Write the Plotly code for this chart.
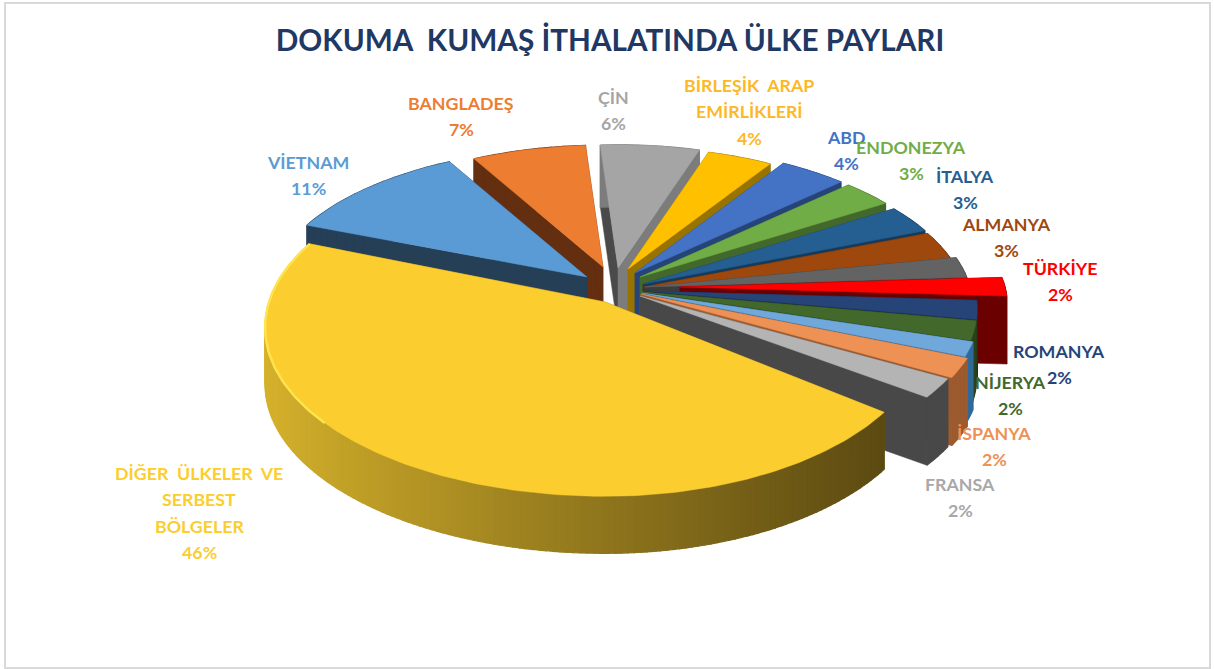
import math
import plotly.graph_objects as go

# --- data -----------------------------------------------------------------
TITLE = "DOKUMA  KUMAŞ İTHALATINDA ÜLKE PAYLARI"
categories = ["ÇİN", "BİRLEŞİK  ARAP<br>EMİRLİKLERİ", "ABD", "ENDONEZYA", "İTALYA", "ALMANYA", "",
              "TÜRKİYE", "ROMANYA", "NİJERYA", "", "İSPANYA", "FRANSA",
              "DİĞER  ÜLKELER  VE<br>SERBEST<br>BÖLGELER", "VİETNAM", "BANGLADEŞ"]
values = [6, 4, 4, 3, 3, 3, 2.2, 2, 2, 2, 1.5, 2, 2, 46, 11, 7]
percent_labels = ["6%", "4%", "4%", "3%", "3%", "3%", "", "2%", "2%", "2%", "", "2%", "2%", "46%", "11%", "7%"]

# --- style ----------------------------------------------------------------
top_colors = ["#a5a5a5", "#ffc000", "#4472c4", "#70ad47", "#255e91", "#9e480e", "#636363",
              "#ff0000", "#264478", "#43682b", "#70a8dc", "#ed9155", "#b4b4b4",
              "#fbcd2e", "#5b9bd5", "#ed7d31"]
wall_colors = ["#4a4a4a", "#997300", "#264478", "#43682b", "#163a5a", "#5e2b08", "#3c3c3c",
               "#6a0000", "#16294a", "#2a4219", "#2f6a9a", "#9c5a2e", "#484848",
               "#8a6f1a", "#253f56", "#632f10"]
label_colors = ["#a5a5a5", "#fdb827", "#4472c4", "#70ad47", "#255e91", "#9e480e", "#636363",
                "#ff0000", "#264478", "#43682b", "#70a8dc", "#ed9155", "#a8a8a8",
                "#fbcd2e", "#5b9bd5", "#ed7d31"]
# apex of each slice's top surface (exploded positions) and size factor
apex = [(618, 268), (628, 269), (635, 273), (640, 277), (643, 284), (644, 287), (645, 287),
        (680, 287), (645, 291), (643, 292), (642, 293), (641, 294), (640, 296),
        (605, 302), (587, 277), (603, 267)]
scale = [0.92, 0.91, 0.95, 0.96, 0.98, 0.985, 1.0, 1.0, 1.015, 1.02, 1.03, 1.04, 1.03, 1.0, 0.97, 0.91]
depth = [62, 62, 62, 62, 62, 62, 62, 68, 64, 66, 68, 68, 68, 57, 62, 62]
rx = [325] * 13 + [336, 325, 325]
ry = [150] * 13 + [165, 150, 150]
persp = [0.12] * 13 + [0.151, 0.12, 0.12]
right_squash = [1.0] * 13 + [0.95, 1.0, 1.0]
# centre of first line for each label
label_pos = [(613, 97), (749, 85), (846, 137), (911, 147), (965, 176), (1006, 224), None,
             (1060, 268), (1059, 351), (1010, 382), None, (994, 433), (960, 484),
             (199, 473), (308, 162), (461, 103)]
LINE_GAP = 26.3
START_DEG = -3.8
FONT = "Lato, Carlito, Calibri, sans-serif"
draw_order = [0, 1, 2, 3, 4, 5, 6, 7, 8, 9, 10, 11, 12, 15, 14, 13]

total = sum(values)
angles = []
a = START_DEG
for v in values:
    angles.append((a, a + v / total * 360))
    a = angles[-1][1]


def rim_pt(i, deg):
    t = math.radians(deg)
    X, Y = math.sin(t), math.cos(t)
    s = scale[i] / (1 + persp[i] * Y)
    fx = right_squash[i] if X > 0 else 1.0
    return apex[i][0] + X * rx[i] * s * fx, apex[i][1] - Y * ry[i] * s


def poly(xs, ys, color, width=0.5):
    return go.Scatter(x=xs + xs[:1], y=ys + ys[:1], mode="lines", fill="toself", fillcolor=color,
                      line=dict(color=color, width=width), hoverinfo="skip", showlegend=False)


def mix(c1, c2, f):
    return "#%02x%02x%02x" % tuple(int(c1[j] + (c2[j] - c1[j]) * f) for j in range(3))


fig = go.Figure()
for i in draw_order:
    a0, a1 = angles[i]
    n = max(4, int((a1 - a0) / 1.0)) if i == 13 else max(4, int((a1 - a0) / 2.5))
    degs = [a0 + (a1 - a0) * k / n for k in range(n + 1)]
    pts = [rim_pt(i, d) for d in degs]
    ax, ay = apex[i]
    d = depth[i]
    # cut walls
    for p in (pts[0], pts[-1]):
        col = "#7c7c7c" if (i == 0 and p is pts[-1]) else wall_colors[i]
        fig.add_trace(poly([ax, p[0], p[0], ax], [ay, p[1], p[1] + d, ay + d], col))
    # rim wall, shaded along its length
    for k in range(n):
        p, q = pts[k], pts[k + 1]
        if i == 13:
            f = (p[0] - 265) / (890 - 265)
            col = mix((214, 178, 44), (92, 74, 18), max(0, min(1, f)) ** 0.9)
            w = 1.2
        else:
            col = "#7c7c7c" if i == 0 else wall_colors[i]
            w = 1.2
        fig.add_trace(poly([p[0], q[0], q[0], p[0]], [p[1], q[1], q[1] + d, p[1] + d], col, w))
    # top surface
    fig.add_trace(poly([ax] + [p[0] for p in pts], [ay] + [p[1] for p in pts], top_colors[i]))
    if i == 13:
        hl = [p for dg, p in zip(degs, pts) if dg > 228]
        fig.add_trace(go.Scatter(x=[p[0] for p in hl], y=[p[1] for p in hl], mode="lines",
                                 line=dict(color="#ffe34d", width=2.5), hoverinfo="skip", showlegend=False))

annotations = []
for i, pos in enumerate(label_pos):
    if pos is None:
        continue
    lines = categories[i].split("<br>") + [percent_labels[i]]
    for j, txt in enumerate(lines):
        annotations.append(dict(x=pos[0], y=pos[1] + j * LINE_GAP, xref="x", yref="y", text=txt,
                                showarrow=False, xanchor="center", yanchor="middle",
                                font=dict(family=FONT, size=17.8, color=label_colors[i], weight="bold")))

fig.update_layout(
    width=1214, height=669, margin=dict(l=0, r=0, t=0, b=0),
    paper_bgcolor="white", plot_bgcolor="white", showlegend=False,
    title=dict(text=TITLE, x=610 / 1214, xanchor="center", y=1 - 41 / 669, yanchor="middle",
               font=dict(family=FONT, size=29.7, color="#1f3864", weight="bold")),
    xaxis=dict(range=[0, 1214], visible=False, fixedrange=True),
    yaxis=dict(range=[669, 0], visible=False, fixedrange=True),
    annotations=annotations,
    shapes=[dict(type="rect", x0=5, y0=3, x1=1210, y1=668, line=dict(color="#d9d9d9", width=2), layer="below")],
)
fig.write_html("out.html", config={"displayModeBar": False},
               post_script="document.body.style.margin='0';document.body.style.overflow='hidden';")
